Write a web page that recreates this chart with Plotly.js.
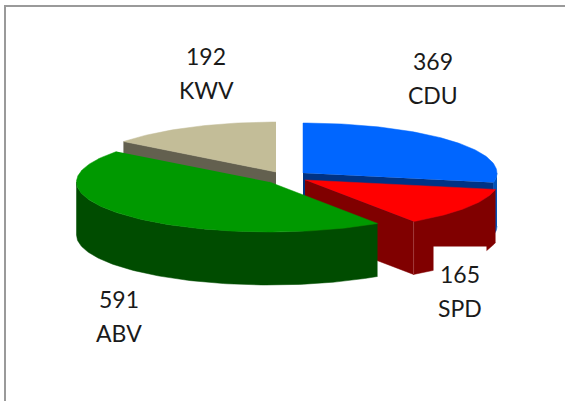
<!DOCTYPE html>
<html>
<head>
<meta charset="utf-8">
<script src="https://cdn.plot.ly/plotly-3.0.1.min.js"></script>
<style>html,body{margin:0;padding:0;background:#fff}#c{width:565px;height:401px}</style>
</head>
<body>
<div id="c"></div>
<script>
// Data
const categories = ["CDU", "SPD", "ABV", "KWV"];
const values = [369, 165, 591, 192];

// Styles
const topColors = ["#0066ff", "#ff0000", "#009900", "#c3bd98"];
const wallColors = ["#0052b8", "#800000", "#004c00", "#63604f"];
const cutColors = ["#003385", "#800000", "#004c00", "#63604f"];

// Projection of the exploded pie (pixels of the hidden axes)
const RY = 50, DEPTH = 53;
const radii = [194, 194, 193, 192];
const centers = [[303, 173], [305, 180], [269.5, 182], [276, 172]];
const labelPos = [[433, 61, 95], [460, 274, 308], [119, 299, 333], [206, 56, 90]];
const drawOrder = [3, 0, 1, 2];

const total = values.reduce((a, b) => a + b, 0);
const spans = [];
let acc = 0;
values.forEach(v => { spans.push([acc / total * 2 * Math.PI, (acc + v) / total * 2 * Math.PI]); acc += v; });

function pt(c, rx, a, dz) { return [c[0] + rx * Math.sin(a), c[1] - RY * Math.cos(a) + (dz || 0)]; }
function arc(c, rx, a0, a1, dz) {
  const out = [], n = Math.max(2, Math.ceil(Math.abs(a1 - a0) / 0.02));
  for (let i = 0; i <= n; i++) out.push(pt(c, rx, a0 + (a1 - a0) * i / n, dz));
  return out;
}
function poly(points, color) {
  return {
    type: "scatter", mode: "lines", x: points.map(p => p[0]), y: points.map(p => p[1]),
    fill: "toself", fillcolor: color, line: { width: 0.5, color: color },
    hoverinfo: "skip", showlegend: false
  };
}
function cut(c, rx, a, color) {
  const e = pt(c, rx, a);
  return poly([c, e, [e[0], e[1] + DEPTH], [c[0], c[1] + DEPTH]], color);
}

const traces = [];
drawOrder.forEach(i => {
  const c = centers[i], rx = radii[i], a0 = spans[i][0], a1 = spans[i][1];
  // radial faces that look towards the viewer
  if (Math.sin(a0) < 0) traces.push(cut(c, rx, a0, cutColors[i]));
  if (Math.sin(a1) > 0) traces.push(cut(c, rx, a1, cutColors[i]));
  // outer wall, only the front half of the rim
  const w0 = Math.max(a0, Math.PI / 2), w1 = Math.min(a1, 1.5 * Math.PI);
  if (w1 > w0) traces.push(poly(arc(c, rx, w0, w1, 0).concat(arc(c, rx, w1, w0, DEPTH)), wallColors[i]));
  // seam between the radial face and the wall of SPD
  if (categories[i] === "SPD") {
    const e = pt(c, rx, a1);
    traces.push({ type: "scatter", mode: "lines", x: [e[0], e[0]], y: [e[1], e[1] + DEPTH],
      line: { width: 1, color: "#a03a3a" }, hoverinfo: "skip", showlegend: false });
  }
  // top face
  traces.push(poly([c].concat(arc(c, rx, a0, a1, 0)), topColors[i]));
});

const font = { family: "Lato, Carlito, sans-serif", size: 23, color: "#1a1a1a" };
const annotations = [];
categories.forEach((name, i) => {
  const p = labelPos[i];
  const a = { xref: "x", yref: "y", x: p[0], y: p[1], text: String(values[i]), showarrow: false,
    font: font, xanchor: "center", yanchor: "middle" };
  if (name === "SPD") { a.bgcolor = "#ffffff"; a.width = 50; a.height = 52; }
  annotations.push(a);
  annotations.push({ xref: "x", yref: "y", x: p[0], y: p[2], text: name, showarrow: false,
    font: font, xanchor: "center", yanchor: "middle" });
});

const layout = {
  width: 565, height: 401,
  margin: { l: 0, r: 0, t: 0, b: 0 },
  paper_bgcolor: "#ffffff", plot_bgcolor: "#ffffff",
  xaxis: { range: [0, 565], visible: false, fixedrange: true },
  yaxis: { range: [401, 0], visible: false, fixedrange: true },
  showlegend: false,
  annotations: annotations,
  shapes: [
    { type: "line", xref: "x", yref: "y", x0: 4, x1: 565, y0: 6, y1: 6, line: { color: "#9a9a9a", width: 2 } },
    { type: "line", xref: "x", yref: "y", x0: 5, x1: 5, y0: 5, y1: 401, line: { color: "#9a9a9a", width: 2 } }
  ]
};
Plotly.newPlot("c", traces, layout, { displayModeBar: false, staticPlot: true });
</script>
</body>
</html>
